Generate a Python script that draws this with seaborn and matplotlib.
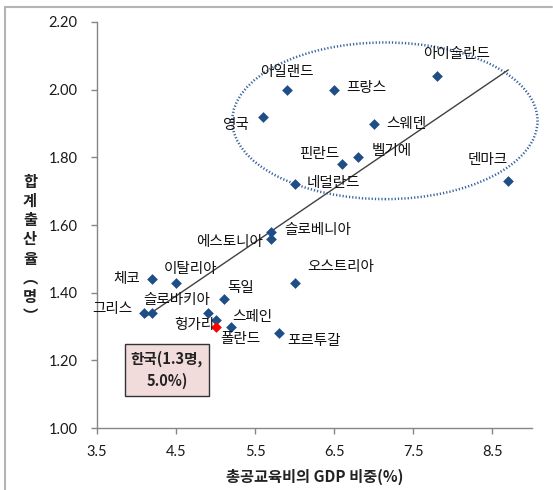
import numpy as np
import pandas as pd
import matplotlib
matplotlib.use("Agg")
import matplotlib.pyplot as plt
import seaborn as sns
from matplotlib.patches import Ellipse
from matplotlib.lines import Line2D
from matplotlib.ticker import FormatStrFormatter

# OECD countries: public education spending (% of GDP) vs. total fertility rate
countries = ["아일랜드", "프랑스", "아이슬란드", "영국", "스웨덴", "핀란드", "벨기에",
             "덴마크", "네덜란드", "슬로베니아", "에스토니아", "오스트리아", "체코",
             "이탈리아", "독일", "그리스", "슬로바키아", "헝가리", "스페인", "폴란드",
             "포르투갈"]
edu_share = [5.9, 6.5, 7.8, 5.6, 7.0, 6.6, 6.8, 8.7, 6.0, 5.7, 5.7, 6.0, 4.2,
             4.5, 5.1, 4.1, 4.2, 4.9, 5.0, 5.2, 5.8]
fertility = [2.00, 2.00, 2.04, 1.92, 1.90, 1.78, 1.80, 1.73, 1.72, 1.58, 1.56,
             1.43, 1.44, 1.43, 1.38, 1.34, 1.34, 1.34, 1.32, 1.30, 1.28]

korea_name = "한국"
korea_edu = 5.0
korea_tfr = 1.30

x_ticks = [3.5, 4.5, 5.5, 6.5, 7.5, 8.5]
y_ticks = [1.00, 1.20, 1.40, 1.60, 1.80, 2.00, 2.20]

# label placement: (dx px, dy px, horizontal alignment)
label_offsets = {
    "아일랜드": (0, 18, "center"), "프랑스": (12, 2, "left"),
    "아이슬란드": (19, 22, "center"), "영국": (-14, -8, "right"),
    "스웨덴": (12, 0, "left"), "핀란드": (-3, 10, "right"),
    "벨기에": (14, 6, "left"), "덴마크": (-21, 21, "center"),
    "네덜란드": (12, 1, "left"), "슬로베니아": (13, 2, "left"),
    "에스토니아": (-8, -3, "right"), "오스트리아": (13, 16, "left"),
    "체코": (-12, 0, "right"), "이탈리아": (-12, 14, "left"),
    "독일": (4, 11, "left"), "그리스": (-12, 4, "right"),
    "슬로바키아": (-9, 13, "left"), "헝가리": (7, -12, "right"),
    "스페인": (17, 3, "left"), "폴란드": (-11, -12, "left"),
    "포르투갈": (8, -8, "left"),
}

sns.set_theme(style="white")
plt.rcParams["font.family"] = ["Noto Sans CJK KR", "DejaVu Sans"]

W, H = 553, 490
fig = plt.figure(figsize=(W / 100, H / 100), dpi=100)
ax = fig.add_axes([97 / W, 1 - 428 / H, (532 - 97) / W, (428 - 22) / H])

others = pd.DataFrame({"country": countries, "edu": edu_share, "tfr": fertility})
korea = pd.DataFrame({"country": [korea_name], "edu": [korea_edu], "tfr": [korea_tfr]})
everyone = pd.concat([others, korea], ignore_index=True)

# linear trend over all countries
sns.regplot(data=everyone, x="edu", y="tfr", scatter=False, ci=None, truncate=True,
            color="#404040", line_kws=dict(lw=1.0, zorder=2), ax=ax)

sns.scatterplot(data=others, x="edu", y="tfr", marker="D", s=30, color="#1f4e86",
                linewidth=0, ax=ax, zorder=3)
sns.scatterplot(data=korea, x="edu", y="tfr", marker="D", s=30, color="#ff0000",
                linewidth=0, ax=ax, zorder=4)

for name, xv, yv in zip(countries, edu_share, fertility):
    dx, dy, ha = label_offsets[name]
    ax.annotate(name, (xv, yv), xytext=(dx, dy), textcoords="offset pixels",
                ha=ha, va="center", fontsize=10.5, color="#111111", zorder=5)

# high-spending, high-fertility cluster
ax.add_patch(Ellipse((7.14, 1.908), 3.86, 0.463, fill=False, edgecolor="#3a64a0",
                     lw=1.8, linestyle=(0, (0.5, 0.8)), clip_on=False, zorder=1))

ax.text(4.384, 1.171, f"{korea_name}({korea_tfr:.1f}명,\n{korea_edu:.1f}%)",
        ha="center", va="center", fontsize=10.5, fontweight="bold", color="#222222",
        linespacing=1.45,
        bbox=dict(boxstyle="square,pad=0.42", facecolor="#f2dcdb",
                  edgecolor="#333333", lw=1.0), zorder=6)

ax.set_xlim(3.5, 9.0)
ax.set_ylim(1.0, 2.2)
ax.set_xticks(x_ticks)
ax.set_yticks(y_ticks)
ax.xaxis.set_major_formatter(FormatStrFormatter("%.1f"))
ax.yaxis.set_major_formatter(FormatStrFormatter("%.2f"))
for lab in ax.get_xticklabels() + ax.get_yticklabels():
    lab.set_family(["Lato", "DejaVu Sans"])
ax.tick_params(axis="both", which="major", direction="out", length=4, width=1,
               color="#868686", labelsize=10.5, labelcolor="#1a1a1a")
ax.tick_params(axis="x", pad=8)
ax.tick_params(axis="y", pad=10)
ax.xaxis.set_ticks_position("bottom")
ax.yaxis.set_ticks_position("left")

sns.despine(ax=ax)
for side in ("left", "bottom"):
    ax.spines[side].set_color("#868686")
    ax.spines[side].set_linewidth(1.0)

ax.set_xlabel("총공교육비의 GDP 비중(%)", fontsize=11, fontweight="bold", color="#222222")
ax.xaxis.label.set_va("center")
ax.xaxis.set_label_coords(0.5, -49 / 406)
ax.set_ylabel("")

fig.text(30 / W, 1 - 249 / H, "합\n계\n출\n산\n율\n︵\n명\n︶", ha="center", va="center",
         fontsize=11, fontweight="bold", color="#222222", linespacing=1.25)

# outer frame (top and left edges)
fig.add_artist(Line2D([4.5 / W, 4.5 / W], [0, 1 - 7 / H], transform=fig.transFigure,
                      color="#b4b4b4", lw=1.5))
fig.add_artist(Line2D([4.5 / W, 552 / W], [1 - 7 / H, 1 - 7 / H], transform=fig.transFigure,
                      color="#b4b4b4", lw=1.5))

fig.savefig("out.png", dpi=100)
